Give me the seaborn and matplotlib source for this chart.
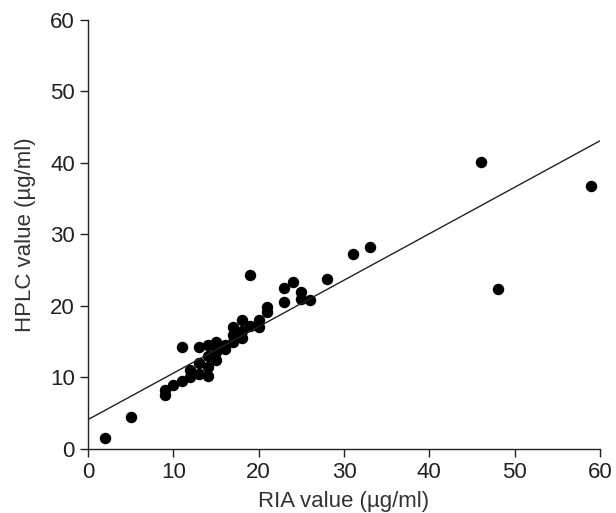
import matplotlib
matplotlib.use("Agg")
import matplotlib.pyplot as plt
import seaborn as sns
import numpy as np
import pandas as pd

# RIA vs HPLC values (ug/ml)
ria = [2, 5, 9, 9, 10, 11, 11, 12, 12, 13, 13, 13, 14, 14, 14, 14, 15, 15, 15,
       16, 16, 17, 17, 17, 18, 18, 18, 19, 19, 20, 20, 21, 21, 23, 23, 24, 25,
       25, 26, 28, 31, 33, 46, 48, 59]
hplc = [1.5, 4.4, 7.5, 8.2, 9.0, 9.5, 14.2, 10.0, 11.0, 10.5, 12.0, 14.2, 10.2,
        11.5, 13.0, 14.5, 12.5, 13.5, 15.0, 14.0, 14.5, 15.0, 16.0, 17.0, 15.5,
        16.5, 18.0, 17.2, 24.3, 17.0, 18.0, 19.2, 19.8, 20.5, 22.5, 23.3, 21.0,
        22.0, 20.8, 23.8, 27.3, 28.3, 40.1, 22.3, 36.8]

# fitted line shown in the figure
fit_intercept = 4.1
fit_slope = 0.65

df = pd.DataFrame({"RIA": ria, "HPLC": hplc})

sns.set_style("ticks")
plt.rcParams["font.family"] = ["Liberation Sans", "DejaVu Sans"]

fig = plt.figure(figsize=(6.16, 5.13), dpi=100)
ax = fig.add_axes([0.143, 0.125, 0.831, 0.836])

sns.scatterplot(data=df, x="RIA", y="HPLC", color="black", s=68,
                edgecolor="black", linewidth=0, ax=ax)

xs = np.array([0, 60])
ax.plot(xs, fit_intercept + fit_slope * xs, color="#222222", lw=1.0)

ax.set_xlim(0, 60)
ax.set_ylim(0, 60)
ax.set_xticks(range(0, 61, 10))
ax.set_yticks(range(0, 61, 10))
ax.tick_params(direction="out", length=6, width=1, labelsize=16, colors="#222222")
for sp in ["left", "bottom"]:
    ax.spines[sp].set_linewidth(1)
    ax.spines[sp].set_color("#222222")
sns.despine(ax=ax)

ax.set_xlabel("RIA value (µg/ml)", fontsize=16, color="#333333", labelpad=6)
ax.set_ylabel("HPLC value (µg/ml)", fontsize=16, color="#333333", labelpad=10)

fig.savefig("out.png", dpi=100)
